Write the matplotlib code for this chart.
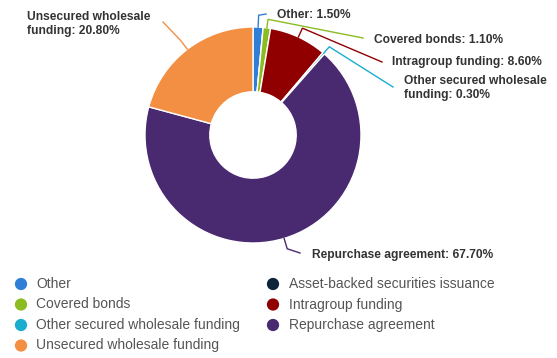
import numpy as np
import matplotlib
matplotlib.use("Agg")
import matplotlib.pyplot as plt

categories = ["Other", "Asset-backed securities issuance", "Covered bonds",
              "Intragroup funding", "Other secured wholesale funding",
              "Repurchase agreement", "Unsecured wholesale funding"]
values = [1.50, 0.00, 1.10, 8.60, 0.30, 67.70, 20.80]
colors = ["#2f7ed8", "#0d233a", "#8bbc21", "#910000", "#1aadce", "#492970", "#f28f43"]
label_names = ["Other", None, "Covered bonds", "Intragroup funding",
               "Other secured wholesale\nfunding", "Repurchase agreement",
               "Unsecured wholesale\nfunding"]

W, H = 557, 358
DPI = 100
fig = plt.figure(figsize=(W / DPI, H / DPI), dpi=DPI)
FONT = "Liberation Sans"

# pie geometry in pixels
cx, cy, R = 253, 135, 108
ax = fig.add_axes([(cx - R) / W, (H - cy - R) / H, 2 * R / W, 2 * R / H])
wedges, _ = ax.pie(values, colors=colors, startangle=90, counterclock=False,
                   radius=1.0, wedgeprops=dict(width=0.6, edgecolor="white", linewidth=1.0))
ax.set_xlim(-1, 1)
ax.set_ylim(-1, 1)
ax.set_aspect("equal")
ax.axis("off")

def px2data(px, py):
    return ((px - cx) / R, (cy - py) / R)

# label anchor (line end) and text position, in pixels (layout only)
label_layout = {
    0: dict(end=(266, 14), text=(277, 15), ha="left"),
    2: dict(end=(363, 38), text=(374, 40), ha="left"),
    3: dict(end=(382, 62), text=(392, 62), ha="left"),
    4: dict(end=(393, 87), text=(404, 88), ha="left"),
    5: dict(end=(300, 253), text=(312, 255), ha="left"),
    6: dict(end=(163, 22), text=(150, 24), ha="right"),
}
ext = {0: 1.11, 2: 1.08, 3: 1.09, 4: 1.08, 5: 1.1, 6: 1.1}

for i, w in enumerate(wedges):
    if values[i] <= 0 or label_names[i] is None:
        continue
    ang = np.deg2rad((w.theta1 + w.theta2) / 2)
    x0, y0 = np.cos(ang), np.sin(ang)
    e = ext[i]
    x1, y1 = e * x0, e * y0
    lay = label_layout[i]
    x2, y2 = px2data(*lay["end"])
    ax.plot([x0, x1, x2], [y0, y1, y2], color=colors[i], lw=1.0,
            clip_on=False, solid_joinstyle="miter")
    tx, ty = px2data(*lay["text"])
    ax.text(tx, ty, f"{label_names[i]}: {values[i]:.2f}%", ha=lay["ha"], va="center",
            multialignment="left", fontsize=8.64, fontweight="bold",
            color="#333333", family=FONT, clip_on=False, linespacing=1.15)

# legend (row-wise, two columns)
lax = fig.add_axes([0, 0, 1, 1])
lax.set_xlim(0, W)
lax.set_ylim(H, 0)
lax.axis("off")
col_marker_x = [21, 273]
col_text_x = [36, 289]
row_y = [284, 304.5, 325, 345.5]
for i, name in enumerate(categories):
    r, c = divmod(i, 2)
    lax.scatter([col_marker_x[c]], [row_y[r]], s=78, color=colors[i], edgecolors="none")
    lax.text(col_text_x[c], row_y[r], name, ha="left", va="center", fontsize=10.0,
             color="#555555", family=FONT)

fig.savefig("out.png", dpi=DPI)
